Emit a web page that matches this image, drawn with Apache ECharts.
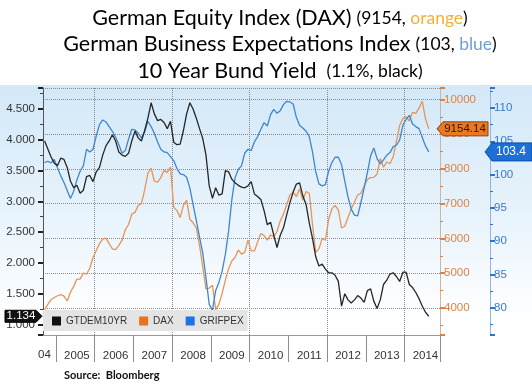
<!DOCTYPE html>
<html><head><meta charset="utf-8">
<script src="https://cdn.jsdelivr.net/npm/echarts@6/dist/echarts.min.js"></script>
<style>html,body{margin:0;padding:0;background:#fff}#c{width:532px;height:384px}</style>
</head><body><div id="c"></div>
<script>
// Monthly categories: Sep 2004 .. Nov 2014
const firstYear = 2004, firstMonth = 9, monthCount = 123;
const months = [];
for (let k = 0; k < monthCount; k++) {
  const m = firstMonth - 1 + k;
  months.push((firstYear + Math.floor(m / 12)) + '-' + String(m % 12 + 1).padStart(2, '0'));
}
const yearLabels = ['2005','2006','2007','2008','2009','2010','2011','2012','2013','2014'];

// 10 Year Bund Yield (GTDEM10YR), %
const bund = [3.98,3.85,3.72,3.62,3.58,3.70,3.68,3.55,3.33,3.22,3.26,3.13,
  3.18,3.40,3.42,3.32,3.48,3.55,3.75,3.90,3.98,4.08,3.98,3.80,
  3.75,3.73,3.78,3.98,4.14,4.03,3.98,4.15,4.35,4.60,4.42,4.31,
  4.33,4.28,4.18,4.30,3.96,3.92,3.93,4.15,4.42,4.60,4.50,4.35,
  4.18,4.02,3.75,3.25,3.05,3.22,3.10,3.12,3.50,3.48,3.36,3.30,
  3.26,3.23,3.22,3.25,3.32,3.12,3.08,3.03,2.85,2.62,2.66,2.45,
  2.25,2.45,2.57,2.78,2.98,3.15,3.28,3.30,3.09,2.95,2.65,2.40,
  2.10,1.95,1.98,1.90,1.84,1.84,1.80,1.70,1.30,1.50,1.40,1.35,
  1.40,1.47,1.43,1.36,1.55,1.58,1.38,1.26,1.40,1.65,1.72,1.82,
  1.84,1.78,1.70,1.85,1.85,1.65,1.60,1.52,1.42,1.30,1.20,1.134];

// German Equity Index (DAX)
const dax = [3950,4100,4240,4300,4350,4380,4340,4200,4450,4620,4830,4830,
  5000,4970,5150,5450,5650,5850,5980,6010,5850,5700,5680,5800,
  5950,6250,6400,6700,6750,6950,7000,7400,7880,8020,7650,7620,
  7750,7960,7900,8050,6900,6800,6600,6950,7100,6550,6450,6300,
  5800,5180,4550,4570,4650,3950,4100,4420,4800,5130,5350,5450,
  5670,5550,5600,5950,5640,5640,5900,6140,6080,5950,6100,6050,
  6200,6500,6700,6970,7250,7330,7200,7430,7100,7350,7300,6400,
  5600,5700,6000,5950,6550,6850,6950,6820,6300,6350,6600,6850,
  7050,7250,7300,7500,7700,7750,7760,7850,8300,8050,8200,8150,
  8350,8800,9250,9450,9500,9380,9630,9600,9750,9950,9450,9154.14];

// German Business Expectations Index (GRIFPEX)
const ifo = [101.8,102.0,101.75,102.25,101.0,99.8,98.8,97.6,96.4,97.5,99.2,100.5,
  101.3,103.8,103.4,103.8,105.8,107.5,108.2,107.9,107.2,106.5,105.6,104.5,
  103.2,103.6,105.3,106.8,106.7,106.2,105.5,106.4,108.0,107.2,106.2,104.9,
  103.8,103.4,103.3,102.7,102.1,100.9,100.1,100.0,99.6,98.0,95.5,93.1,
  90.6,88.2,84.5,80.5,79.6,82.6,83.8,85.5,88.0,91.5,96.2,99.5,
  100.8,101.3,103.2,103.8,103.6,104.9,105.7,106.8,107.8,107.3,109.0,109.8,
  109.2,109.6,110.5,111.0,110.9,110.6,108.6,107.4,107.0,106.5,105.7,103.4,
  100.4,98.6,98.3,98.5,100.5,101.8,102.6,102.6,101.5,99.0,96.6,94.8,
  93.9,93.8,95.8,98.0,100.3,102.8,104.0,102.4,101.6,102.2,102.9,103.3,
  104.2,104.4,105.2,107.4,108.3,108.9,107.6,107.2,106.9,105.6,104.3,103.4];

const tagBund = '1.134', tagDax = '9154.14', tagIfo = '103.4';

const chart = echarts.init(document.getElementById('c'), null, {renderer: 'canvas'});
const TF = 'Lato';
const AF = 'Liberation Sans';
const titleRich = {
  m: {fontSize: 21.5, fontFamily: TF, fontWeight: 'normal', color: '#000'},
  s: {fontSize: 17.5, fontFamily: TF, fontWeight: 'normal', color: '#000'},
  o: {fontSize: 17.5, fontFamily: TF, fontWeight: 'normal', color: '#f2b134'},
  b: {fontSize: 17.5, fontFamily: TF, fontWeight: 'normal', color: '#6f9fd6'}
};
const tStyle = {fontWeight: 'normal', rich: titleRich};
const option = {
  animation: false,
  title: [
    {left: 275, textAlign: 'center', top: 2, text: '{m|German Equity Index (DAX)} {s|(9154, }{o|orange}{s|)}', textStyle: tStyle},
    {left: 275, textAlign: 'center', top: 28, text: '{m|German Business Expectations Index} {s|(103, }{b|blue}{s|)}', textStyle: tStyle},
    {left: 275, textAlign: 'center', top: 55, text: '{m|10 Year Bund Yield}  {s|(1.1%, black)}', textStyle: tStyle}
  ],
  grid: {left: 43, right: 92, top: 88, bottom: 49, containLabel: false},
  legend: {
    left: 43, top: 310, orient: 'horizontal',
    backgroundColor: '#e4e4e4', padding: [6, 4, 5, 9],
    itemWidth: 9, itemHeight: 9, itemGap: 12, icon: 'rect',
    textStyle: {fontFamily: 'Liberation Sans', fontSize: 10, color: '#333'},
    data: ['GTDEM10YR', 'DAX', 'GRIFPEX']
  },
  xAxis: {
    type: 'category', data: months, boundaryGap: true,
    axisLine: {lineStyle: {color: '#999', width: 1}},
    axisTick: {show: true, length: 27, interval: (i, v) => v.endsWith('-01'), lineStyle: {color: '#8c8c8c'}},
    axisLabel: {interval: (i, v) => v.endsWith('-07'), formatter: v => yearLabels[yearLabels.indexOf(v.slice(0, 4))] || '',
      color: '#333', fontSize: 11.5, fontFamily: AF, margin: 15},
    splitLine: {show: true, interval: (i, v) => v.endsWith('-01') && (+v.slice(0, 4)) % 2 === 0,
      lineStyle: {type: 'dotted', color: '#8a8a8a'}}
  },
  yAxis: [
    {type: 'value', position: 'left', min: 0.83, max: 4.84, splitNumber: 8,
      axisLine: {show: true, lineStyle: {color: '#555'}},
      axisTick: {show: true, length: 5, lineStyle: {color: '#222', width: 2}},
      minorTick: {show: true, splitNumber: 2, length: 3, lineStyle: {color: '#444'}},
      axisLabel: {formatter: v => Math.abs(v * 2 - Math.round(v * 2)) < 1e-6 ? v.toFixed(3) : '',
        color: '#333', fontSize: 11.5, fontFamily: AF, margin: 8},
      splitLine: {show: false}},
    {type: 'value', position: 'right', min: 3220, max: 10330, splitNumber: 7,
      axisLine: {show: true, lineStyle: {color: '#c9b6a6'}},
      axisTick: {show: true, length: 5, lineStyle: {color: '#e0803a', width: 2}},
      minorTick: {show: true, splitNumber: 2, length: 3, lineStyle: {color: '#e0803a'}},
      axisLabel: {formatter: v => (v % 1000 === 0 ? String(v) : ''), color: '#db8446', fontSize: 11.5, fontFamily: AF, margin: 4},
      splitLine: {show: true, lineStyle: {type: 'dotted', color: '#8a8a8a'}}},
    {type: 'value', position: 'right', offset: 50, min: 75.9, max: 113, splitNumber: 7,
      axisLine: {show: true, lineStyle: {color: '#8fb7e3'}},
      axisTick: {show: true, length: 5, lineStyle: {color: '#2f74cc', width: 2}},
      minorTick: {show: true, splitNumber: 2, length: 3, lineStyle: {color: '#2f74cc'}},
      axisLabel: {formatter: v => (v % 5 === 0 ? String(v) : ''), color: '#3a7acb', fontSize: 11.5, fontFamily: AF, margin: 4},
      splitLine: {show: false}}
  ],
  series: [
    {name: 'GTDEM10YR', type: 'line', yAxisIndex: 0, data: bund, showSymbol: false, z: 4,
      lineStyle: {color: '#262626', width: 1.3}, itemStyle: {color: '#111'}},
    {name: 'DAX', type: 'line', yAxisIndex: 1, data: dax, showSymbol: false, z: 3,
      lineStyle: {color: '#e79456', width: 1.3}, itemStyle: {color: '#e8731c'}},
    {name: 'GRIFPEX', type: 'line', yAxisIndex: 2, data: ifo, showSymbol: false, z: 3,
      lineStyle: {color: '#3f86cf', width: 1.3}, itemStyle: {color: '#1a73e8'}}
  ]
};
chart.setOption(option);

// Value tags placed through the axes' own scales
const yB = chart.convertToPixel({yAxisIndex: 0}, bund[bund.length - 1]);
const yD = chart.convertToPixel({yAxisIndex: 1}, dax[dax.length - 1]);
const yI = chart.convertToPixel({yAxisIndex: 2}, ifo[ifo.length - 1]);
const axL = 43, axD = 440, axI = 490;
chart.setOption({
  graphic: [
    {type: 'rect', z: -100, silent: true, shape: {x: 0, y: 85, width: 532, height: 251},
      style: {fill: new echarts.graphic.LinearGradient(0, 0, 0, 1, [
        {offset: 0, color: '#d3e8f8'}, {offset: 0.55, color: '#e9f4fc'}, {offset: 0.85, color: '#fbfdff'}, {offset: 1, color: '#ffffff'}])}},
    {type: 'text', left: 38, top: 349, style: {text: '04', fill: '#333', font: '11.5px "Liberation Sans"'}},
    {type: 'text', left: 64, top: 370, style: {text: 'Source:  Bloomberg', fill: '#111', font: 'bold 11px Lato'}},
    {type: 'polygon', z: 100, shape: {points: [[5, yB - 6], [axL - 7, yB - 6], [axL - 1, yB], [axL - 7, yB + 6], [5, yB + 6]]},
      style: {fill: '#111', stroke: '#000'}},
    {type: 'text', z: 101, x: 21, y: yB, style: {text: tagBund, fill: '#fff', font: '11.5px "Liberation Sans"', align: 'center', verticalAlign: 'middle'}},
    {type: 'polygon', z: 100, shape: {points: [[axD - 3, yD], [axD + 3, yD - 7], [488, yD - 7], [488, yD + 7], [axD + 3, yD + 7]]},
      style: {fill: '#ea7a22', stroke: '#8a4210', lineWidth: 1}},
    {type: 'text', z: 101, x: 465, y: yD, style: {text: tagDax, fill: '#3a1400', font: '11.5px "Liberation Sans"', align: 'center', verticalAlign: 'middle'}},
    {type: 'polygon', z: 100, shape: {points: [[axI - 5, yI], [axI + 2, yI - 9], [532, yI - 9], [532, yI + 9], [axI + 2, yI + 9]]},
      style: {fill: '#1c6fd6', stroke: '#0d4fa6', lineWidth: 1}},
    {type: 'text', z: 101, x: 511, y: yI, style: {text: tagIfo, fill: '#fff', font: '12px "Liberation Sans"', align: 'center', verticalAlign: 'middle'}}
  ]
});
</script></body></html>
